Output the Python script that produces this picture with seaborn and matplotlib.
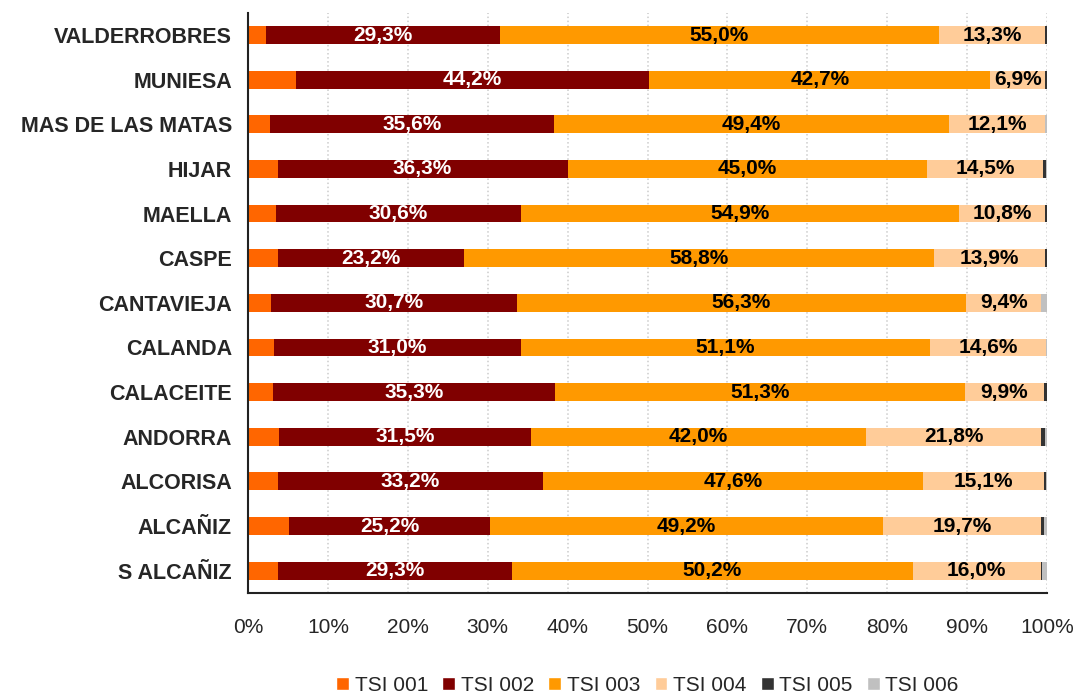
import numpy as np
import pandas as pd
import seaborn as sns
import matplotlib.pyplot as plt
from matplotlib.patches import Patch

categories = ["VALDERROBRES", "MUNIESA", "MAS DE LAS MATAS", "HIJAR", "MAELLA", "CASPE",
              "CANTAVIEJA", "CALANDA", "CALACEITE", "ANDORRA", "ALCORISA", "ALCAÑIZ", "S ALCAÑIZ"]
tsi001 = [2.2, 6.0, 2.7, 3.7, 3.5, 3.8, 2.9, 3.2, 3.1, 3.9, 3.7, 5.1, 3.7]
tsi002 = [29.3, 44.2, 35.6, 36.3, 30.6, 23.2, 30.7, 31.0, 35.3, 31.5, 33.2, 25.2, 29.3]
tsi003 = [55.0, 42.7, 49.4, 45.0, 54.9, 58.8, 56.3, 51.1, 51.3, 42.0, 47.6, 49.2, 50.2]
tsi004 = [13.3, 6.9, 12.1, 14.5, 10.8, 13.9, 9.4, 14.6, 9.9, 21.8, 15.1, 19.7, 16.0]
tsi005 = [0.2, 0.2, 0.0, 0.4, 0.2, 0.3, 0.0, 0.0, 0.4, 0.5, 0.3, 0.4, 0.2]
tsi006 = [0.0, 0.0, 0.2, 0.1, 0.0, 0.0, 0.7, 0.1, 0.0, 0.3, 0.1, 0.4, 0.6]

series = ["TSI 001", "TSI 002", "TSI 003", "TSI 004", "TSI 005", "TSI 006"]
colors = ["#ff6600", "#800000", "#ff9900", "#ffcc99", "#333333", "#c0c0c0"]

df = pd.DataFrame({"cat": categories, "TSI 001": tsi001, "TSI 002": tsi002,
                   "TSI 003": tsi003, "TSI 004": tsi004, "TSI 005": tsi005, "TSI 006": tsi006})
cum = df[series].cumsum(axis=1)

sns.set_style("white")
plt.rcParams['font.family'] = ['Liberation Sans', 'DejaVu Sans']
FS = 15

fig, ax = plt.subplots(figsize=(10.77, 6.93), dpi=100)
fig.subplots_adjust(left=0.2303, right=0.9722, top=0.9817, bottom=0.1443)

# light dotted grid behind the bars
ax.set_axisbelow(True)
ax.grid(axis="x", color="#cccccc", ls=":", lw=1.1)

# stacked bars: draw cumulative totals back to front
for s, c in reversed(list(zip(series, colors))):
    sns.barplot(x=cum[s], y=df["cat"], color=c, orient="h", width=0.4,
                saturation=1, ax=ax, linewidth=0)

# value labels
label_cfg = [("TSI 002", "white"), ("TSI 003", "black"), ("TSI 004", "black")]
for s, tc in label_cfg:
    i = series.index(s)
    for j, v in enumerate(df[s]):
        left = cum[series[i - 1]][j] if i > 0 else 0
        ax.text(left + v / 2, j, f"{v:.1f}%".replace(".", ","), ha="center", va="center",
                color=tc, fontsize=FS, fontweight="bold")

ax.set_xlim(0, 100)
ax.set_ylim(len(categories) - 0.5, -0.5)
ax.set_xticks(np.arange(0, 101, 10))
ax.set_xticklabels([f"{t}%" for t in range(0, 101, 10)], fontsize=FS)
ax.set_yticks(np.arange(len(categories)))
ax.set_yticklabels(categories, fontsize=15.5, fontweight="bold")
ax.set_yticks(np.arange(len(categories) + 1) - 0.5, minor=True)
ax.tick_params(axis="y", which="major", length=0, pad=11.5)
ax.tick_params(axis="y", which="minor", length=6, width=1.2, color="#222222")
ax.tick_params(axis="x", length=6, width=1.2, color="#222222", pad=12)
ax.set_xlabel("")
ax.set_ylabel("")
for sp in ["top", "right"]:
    ax.spines[sp].set_visible(False)
for sp in ["left", "bottom"]:
    ax.spines[sp].set_color("#222222")
    ax.spines[sp].set_linewidth(1.5)

handles = [Patch(facecolor=c, label=s) for s, c in zip(series, colors)]
fig.legend(handles=handles, loc="lower center", ncol=6, frameon=False, fontsize=FS,
           bbox_to_anchor=(0.601, -0.03), handlelength=0.62, handleheight=0.62,
           handletextpad=0.25, columnspacing=0.7)

fig.savefig("out.png", dpi=100)
